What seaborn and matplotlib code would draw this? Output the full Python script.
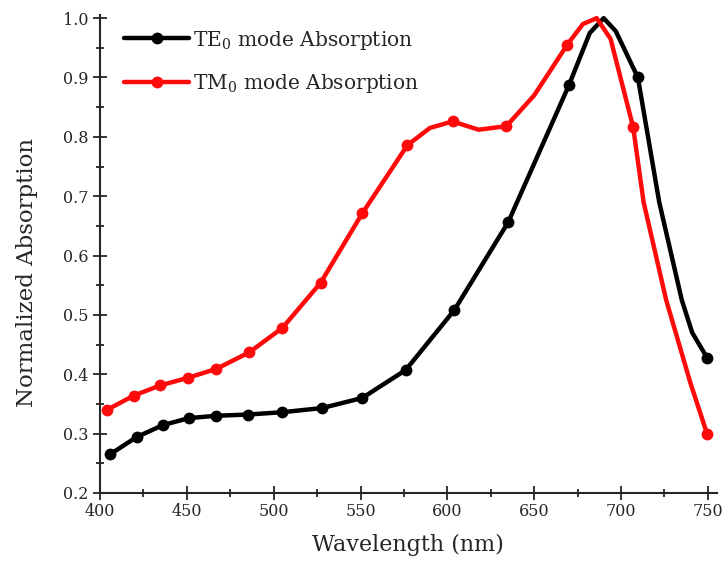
import pandas as pd
import seaborn as sns
import matplotlib.pyplot as plt
from matplotlib.ticker import MultipleLocator

# TE0 curve, markers on a subset
te_wl = [405.8, 421, 436, 451, 467, 485, 505, 528, 551, 576, 604, 635, 670,
         682, 690, 697, 709.7, 722, 735, 741, 749.5]
te_abs = [0.265, 0.294, 0.314, 0.326, 0.330, 0.332, 0.336, 0.343, 0.360, 0.407,
          0.508, 0.656, 0.887, 0.975, 1.0, 0.978, 0.900, 0.69, 0.525, 0.47, 0.428]
te_marks = [0, 1, 2, 3, 4, 5, 6, 7, 8, 9, 10, 11, 12, 16, 20]

# TM0 curve
tm_wl = [404, 419.5, 434.5, 450.7, 467, 486, 505, 527, 551, 577, 590, 603, 618,
         634, 650, 669, 678, 686, 694, 707, 713, 726, 740, 749.5]
tm_abs = [0.340, 0.364, 0.381, 0.394, 0.409, 0.437, 0.478, 0.554, 0.671, 0.786,
          0.815, 0.826, 0.812, 0.818, 0.87, 0.955, 0.99, 1.0, 0.965, 0.816,
          0.69, 0.525, 0.385, 0.300]
tm_marks = [0, 1, 2, 3, 4, 5, 6, 7, 8, 9, 11, 13, 15, 19, 23]

df_te = pd.DataFrame({'wl': te_wl, 'a': te_abs})
df_tm = pd.DataFrame({'wl': tm_wl, 'a': tm_abs})

sns.set_style("ticks")
plt.rcParams['font.family'] = ['DejaVu Serif']
plt.rcParams['mathtext.fontset'] = 'dejavuserif'

fig = plt.figure(figsize=(7.27, 5.84), dpi=100)
ax = fig.add_axes([0.1376, 0.156, 0.848, 0.818])

sns.lineplot(data=df_te, x='wl', y='a', ax=ax, color='black', lw=3.2,
             marker='o', markersize=8.5, markevery=te_marks, sort=False,
             markeredgecolor='black', markeredgewidth=0,
             label='TE$_0$ mode Absorption')
sns.lineplot(data=df_tm, x='wl', y='a', ax=ax, color='#ff0a0a', lw=3.2,
             marker='o', markersize=8.5, markevery=tm_marks, sort=False,
             markeredgecolor='#ff0a0a', markeredgewidth=0,
             label='TM$_0$ mode Absorption')

ax.set_xlim(400, 755)
ax.set_ylim(0.2, 1.005)
ax.xaxis.set_major_locator(MultipleLocator(50))
ax.xaxis.set_minor_locator(MultipleLocator(25))
ax.yaxis.set_major_locator(MultipleLocator(0.1))
ax.yaxis.set_minor_locator(MultipleLocator(0.05))
ax.tick_params(which='major', direction='inout', length=10, width=1.3, labelsize=11.5)
ax.tick_params(axis='x', pad=2)
ax.tick_params(which='minor', direction='inout', length=6, width=1.3)
sns.despine(ax=ax)
for s in ['left', 'bottom']:
    ax.spines[s].set_linewidth(1.5)

ax.set_xlabel('Wavelength (nm)', fontsize=16, labelpad=10)
ax.set_ylabel('Normalized Absorption', fontsize=16.5)
ax.yaxis.set_label_coords(-0.1, 0.462)

ax.legend(loc='upper left', bbox_to_anchor=(0.01, 1.01), frameon=False,
          fontsize=14.5, handlelength=3.2, handletextpad=0.2, labelspacing=1.0)

fig.savefig('out.png', dpi=100)
